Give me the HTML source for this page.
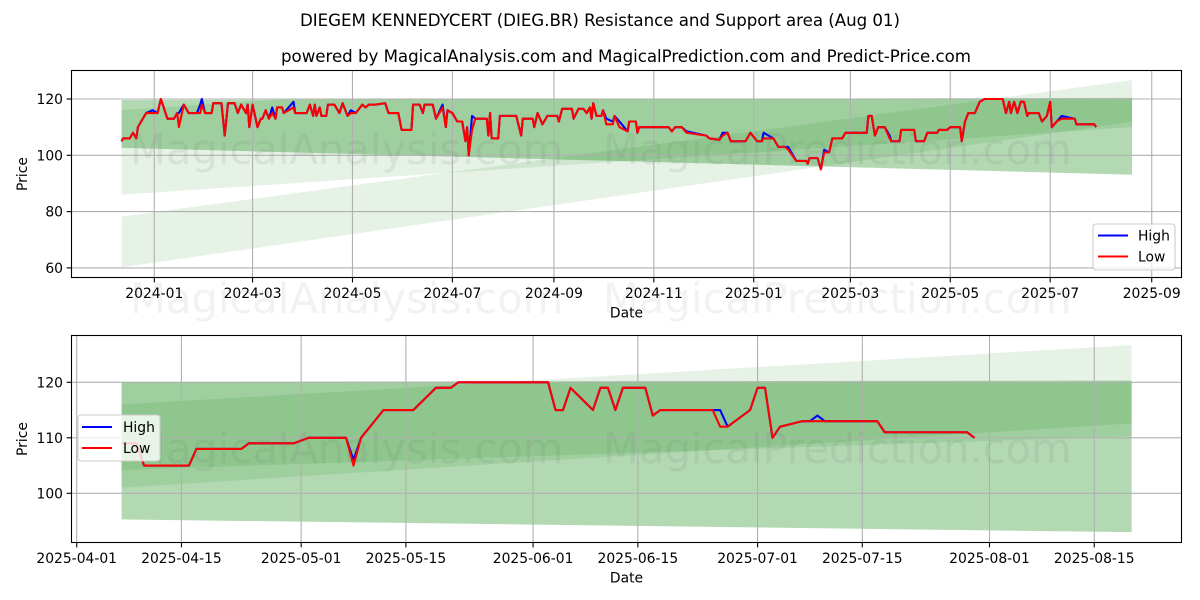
<!DOCTYPE html>
<html lang="en">
<head>
<meta charset="utf-8">
<title>DIEGEM KENNEDYCERT (DIEG.BR) Resistance and Support area</title>
<style>
html,body{margin:0;padding:0;background:#fff;width:1200px;height:600px;overflow:hidden}
svg{display:block;font-family:"DejaVu Sans","Liberation Sans",sans-serif}
text{fill:#000}
</style>
</head>
<body>
<svg id="chart" xmlns="http://www.w3.org/2000/svg" width="1200" height="600" viewBox="0 0 1200 600">
<rect x="0" y="0" width="1200" height="600" fill="#fff"/>
<text x="600" y="26" text-anchor="middle" font-size="16.67" textLength="600">DIEGEM KENNEDYCERT (DIEG.BR) Resistance and Support area (Aug 01)</text>
<text x="626" y="62" text-anchor="middle" font-size="16.67" textLength="690">powered by MagicalAnalysis.com and MagicalPrediction.com and Predict-Price.com</text>
<g id="panel-top"></g>
<g id="panel-bottom"></g>
<g font-size="41.67">
<text x="130" y="164" style="fill:#707070;fill-opacity:.12">MagicalAnalysis.com</text>
<text x="603" y="164" style="fill:#707070;fill-opacity:.12">MagicalPrediction.com</text>
<text x="130" y="313" style="fill:#707070;fill-opacity:.09">MagicalAnalysis.com</text>
<text x="603" y="313" style="fill:#707070;fill-opacity:.09">MagicalPrediction.com</text>
<text x="130" y="463" style="fill:#707070;fill-opacity:.12">MagicalAnalysis.com</text>
<text x="603" y="463" style="fill:#707070;fill-opacity:.12">MagicalPrediction.com</text>
</g>
<g id="legends">
<g>
<rect x="1093" y="224" width="82" height="46" rx="3" fill="#fff" fill-opacity=".8" stroke="#ccc" stroke-width="1.1"/>
<line x1="1098" x2="1128" y1="235.5" y2="235.5" stroke="#0000ff" stroke-width="2.08"/>
<text x="1138" y="240.5" font-size="13.89">High</text>
<line x1="1098" x2="1128" y1="256.5" y2="256.5" stroke="#ff0000" stroke-width="2.08"/>
<text x="1138" y="261.5" font-size="13.89">Low</text>
</g>
<g>
<rect x="78" y="415" width="82" height="46" rx="3" fill="#fff" fill-opacity=".8" stroke="#ccc" stroke-width="1.1"/>
<line x1="82" x2="112" y1="427" y2="427" stroke="#0000ff" stroke-width="2.08"/>
<text x="123" y="432" font-size="13.89">High</text>
<line x1="82" x2="112" y1="448" y2="448" stroke="#ff0000" stroke-width="2.08"/>
<text x="123" y="453" font-size="13.89">Low</text>
</g>
</g>
</svg>
<script>
// ---- Overview panel data: days counted from 2024-01-01 ----
const days1 = [
-20,-19,-15,-13,-11,-10,-5,-1,2,4,
8,12,14,15,18,21,26,28,29,31,
35,36,41,43,45,49,51,53,56,57,
58,60,63,65,66,68,70,72,74,75,
78,79,85,86,93,95,97,98,99,101,
102,105,106,110,113,115,118,120,123,127,
129,131,135,141,143,149,151,157,158,162,
164,165,170,172,176,178,179,182,185,188,
190,191,192,194,196,203,204,205,206,210,
211,221,224,225,231,232,234,237,240,246,
247,249,255,256,259,262,264,266,267,268,
270,273,274,276,280,281,284,289,290,294,
295,296,314,316,318,322,325,337,339,345,
347,350,352,361,364,368,371,372,378,381,
385,387,392,398,399,400,405,407,409,412,
414,420,422,435,436,438,440,442,446,449,
450,455,456,464,465,470,472,478,479,484,
486,492,493,495,497,501,504,507,518,520,
522,523,525,527,529,531,533,534,540,542,
545,547,548,551,554,562,563,574,575];
const high1 = [
105,106,106,108,106,110,115,116,115,120,
113,113,115,115,118,115,115,118,120,115,
115,118.5,118.5,107,118.5,118.5,115,118,115,118,
110,118,110,113,113,116,113,117,113,117,
117,115,119,115,115,118,114,118,114,117,
114,114,118,118,115,118.5,114,116,115,118,
117,118,118,118.5,115,115,109,109,118,118,
115,118,118,113,118,110,116,115,112,112,
105,110,100,114,113,113,107,115,106,106,
114,114,107,113,113,110,115,111,114,114,
112,116.5,116.5,113,116.5,116.5,115,117,113,118.5,
114,114,116,113,112,114,112,108.5,112,112,
108,110,110,108.5,110,110,108.5,107,106,105.5,
108,108,105,105,108,105,105,108,106,103,
103,103,98,98,97,99,99,95,102,101,
106,106,108,108,114,114,107,110,110,107,
105,105,109,109,105,105,108,108,109,109,
110,110,105,112,115,115,119,120,120,115,
119,115,119,115,119,119,114,115,115,112,
114,119,110,112,114,113,111,111,110];
const low1 = [
105,106,106,108,106,110,115,115,115,120,
113,113,115,110,118,115,115,115,118,115,
115,118.5,118.5,107,118.5,118.5,115,118,115,118,
110,118,110,113,113,116,113,115,113,117,
117,115,117,115,115,118,114,118,114,117,
114,114,118,118,115,118.5,114,115,115,118,
117,118,118,118.5,115,115,109,109,118,118,
115,118,118,113,117,110,116,115,112,112,
105,110,100,109,113,113,107,115,106,106,
114,114,107,113,113,110,115,111,114,114,
112,116.5,116.5,113,116.5,116.5,115,117,113,118.5,
114,114,116,111,111,114,110,108.5,112,112,
108,110,110,108.5,110,110,108,107,106,105.5,
107,108,105,105,108,105,105,106,106,103,
103,102,98,98,97,99,99,95,101,101,
106,106,108,108,114,114,107,110,110,106,
105,105,109,109,105,105,108,108,109,109,
110,110,105,112,115,115,119,120,120,115,
119,115,119,115,119,119,114,115,115,112,
114,119,110,112,113,113,111,111,110];
const bandDays1 = [-20,597];
const bandAUpper1 = [119.65,120.4];
const bandALower1 = [102.65,93.1];
const bandBUpper1 = [78.2,126.7];
const bandBLower1 = [60.2,111.9];
const bandCUpper1 = [116.1,140];
const bandCLower1 = [86,110];
const xTickLabels1 = ["2024-01","2024-03","2024-05","2024-07","2024-09","2024-11","2025-01","2025-03","2025-05","2025-07","2025-09"];
const xTickDays1 = [0,60,121,182,244,305,366,425,486,547,609];
const yTicks1 = [60,80,100,120];

// ---- Detail panel data: days counted from 2025-04-01 ----
const days2 = [
6,8,9,15,16,22,23,29,31,36,
37,38,41,45,48,50,51,63,64,65,
66,69,70,71,72,73,76,77,78,85,
86,87,90,91,92,93,94,97,98,99,
100,107,108,119,120];
const high2 = [
109,109,105,105,108,108,109,109,110,110,
106,110,115,115,119,119,120,120,115,115,
119,115,119,119,115,119,119,114,115,115,
115,112,115,119,119,110,112,113,113,114,
113,113,111,111,110];
const low2 = [
109,109,105,105,108,108,109,109,110,110,
105,110,115,115,119,119,120,120,115,115,
119,115,119,119,115,119,119,114,115,115,
112,112,115,119,119,110,112,113,113,113,
113,113,111,111,110];
const bandDays2 = [6,141];
const bandAUpper2 = [120.1,120.3];
const bandALower2 = [95.3,93];
const bandBUpper2 = [116,126.7];
const bandBLower2 = [101,112.6];
const bandCUpper2 = [120.5,135];
const bandCLower2 = [104.2,110.3];
const xTickLabels2 = ["2025-04-01","2025-04-15","2025-05-01","2025-05-15","2025-06-01","2025-06-15","2025-07-01","2025-07-15","2025-08-01","2025-08-15"];
const xTickDays2 = [0,14,30,44,61,75,91,105,122,136];
const yTicks2 = [100,110,120];

const SVG_NS = 'http://www.w3.org/2000/svg';
const bandCeiling = 120;

function make(tag, parent, attrs) {
  const node = document.createElementNS(SVG_NS, tag);
  for (const key in attrs) node.setAttribute(key, attrs[key]);
  parent.appendChild(node);
  return node;
}

function drawPanel(parent, box, xScale, yScale, series) {
  const prefix = series.prefix;
  const clipId = prefix + '-band-clip';
  const clip = make('clipPath', parent, {id: clipId});
  make('rect', clip, {x: box.left, y: yScale(bandCeiling), width: box.right - box.left, height: box.bottom - yScale(bandCeiling)});

  const bands = [
    {key: 'support-band', up: series.aUp, lo: series.aLo, alpha: .3, clip: false},
    {key: 'resistance-band', up: series.bUp, lo: series.bLo, alpha: .1, clip: false},
    {key: 'trend-band', up: series.cUp, lo: series.cLo, alpha: .1, clip: true}
  ];
  bands.forEach(function (b) {
    const x0 = xScale(series.bandDays[0]);
    const x1 = xScale(series.bandDays[1]);
    const pts = [[x0, yScale(b.up[0])], [x1, yScale(b.up[1])], [x1, yScale(b.lo[1])], [x0, yScale(b.lo[0])]];
    const poly = make('polygon', parent, {points: pts.map(function (p) { return p.join(','); }).join(' '), fill: '#008000', 'fill-opacity': b.alpha});
    
    
    if (b.clip) poly.setAttribute('clip-path', 'url(#' + clipId + ')');
  });

  series.xDays.forEach(function (d, i) {
    const x = xScale(d);
    const grid = make('line', parent, {x1: x, x2: x, y1: box.top, y2: box.bottom, stroke: '#b0b0b0', 'stroke-width': 1.1});
    
    
    const tick = make('line', parent, {x1: x, x2: x, y1: box.bottom, y2: box.bottom + 4.9, stroke: '#000', 'stroke-width': 1.1});
    
    
    const label = make('text', parent, {x: x, y: box.bottom + 20.5, 'text-anchor': 'middle', 'font-size': 13.89});
    
    
    label.textContent = series.xLabels[i];
  });

  series.yVals.forEach(function (v) {
    const y = yScale(v);
    const grid = make('line', parent, {x1: box.left, x2: box.right, y1: y, y2: y, stroke: '#b0b0b0', 'stroke-width': 1.1});
    
    
    const tick = make('line', parent, {x1: box.left - 4.9, x2: box.left, y1: y, y2: y, stroke: '#000', 'stroke-width': 1.1});
    
    
    const label = make('text', parent, {x: box.left - 8.5, y: y + 5, 'text-anchor': 'end', 'font-size': 13.89});
    
    
    label.textContent = String(v);
  });

  const toPath = function (values) {
    return values.map(function (v, i) {
      return xScale(series.days[i]).toFixed(2) + ',' + yScale(v).toFixed(2);
    }).join(' ');
  };
  const highLine = make('polyline', parent, {points: toPath(series.high), fill: 'none', stroke: '#0000ff', 'stroke-width': 2.08, 'stroke-linejoin': 'round'});
  
  
  const lowLine = make('polyline', parent, {points: toPath(series.low), fill: 'none', stroke: '#ff0000', 'stroke-width': 2.08, 'stroke-linejoin': 'round'});
  
  

  const frame = make('rect', parent, {x: box.left, y: box.top, width: box.right - box.left, height: box.bottom - box.top, fill: 'none', stroke: '#000', 'stroke-width': 1.1});
  
  

  const xTitle = make('text', parent, {x: 626.5, y: box.bottom + 40, 'text-anchor': 'middle', 'font-size': 13.89});
  
  
  xTitle.textContent = 'Date';
  const midY = (box.top + box.bottom) / 2;
  const yTitle = make('text', parent, {x: 27, y: midY, 'text-anchor': 'middle', 'font-size': 13.89, transform: 'rotate(-90 27 ' + midY + ')'});
  
  
  yTitle.textContent = 'Price';
}

const xScale1 = function (d) { return 154.3 + 1.6378 * d; };
const yScale1 = function (v) { return 155.3 - (v - 100) * 2.815; };
const xScale2 = function (d) { return 76.7 + 7.482 * d; };
const yScale2 = function (v) { return 493.3 - (v - 100) * 5.55; };

drawPanel(document.getElementById('panel-top'), {left: 71.5, right: 1181.5, top: 70.5, bottom: 277.5}, xScale1, yScale1, {
  prefix: 'overview', days: days1, high: high1, low: low1, bandDays: bandDays1,
  aUp: bandAUpper1, aLo: bandALower1, bUp: bandBUpper1, bLo: bandBLower1, cUp: bandCUpper1, cLo: bandCLower1,
  xDays: xTickDays1, xLabels: xTickLabels1, yVals: yTicks1
});
drawPanel(document.getElementById('panel-bottom'), {left: 71.5, right: 1181.5, top: 335.5, bottom: 542.5}, xScale2, yScale2, {
  prefix: 'detail', days: days2, high: high2, low: low2, bandDays: bandDays2,
  aUp: bandAUpper2, aLo: bandALower2, bUp: bandBUpper2, bLo: bandBLower2, cUp: bandCUpper2, cLo: bandCLower2,
  xDays: xTickDays2, xLabels: xTickLabels2, yVals: yTicks2
});
</script>
</body>
</html>
